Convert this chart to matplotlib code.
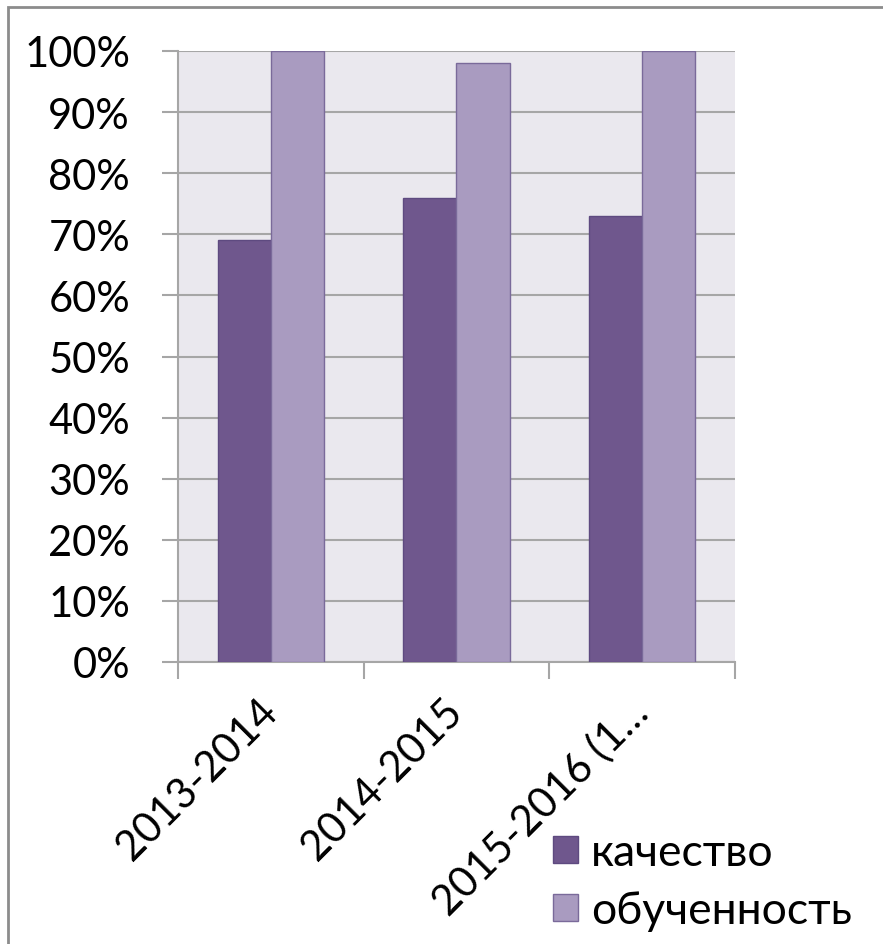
import matplotlib
matplotlib.use("Agg")
import matplotlib.pyplot as plt
import matplotlib.patches as mpatches
import numpy as np

categories = ["2013-2014", "2014-2015", "2015-2016 (1…"]
kachestvo = [69, 76, 73]
obuchennost = [100, 98, 100]
series_names = ["качество", "обученность"]
yticks = list(range(0, 101, 10))

plt.rcParams['font.family'] = ['Lato', 'DejaVu Sans']

W, H = 883, 945
fig = plt.figure(figsize=(W/100, H/100), dpi=100)
ax = fig.add_axes([178/W, 1-663/H, (735-178)/W, (663-52)/H])
ax.set_facecolor('#EAE8EE')

x = np.arange(len(categories))
bw = 1/3.5
c1, c2 = '#6F578D', '#A99BC0'
ax.bar(x - bw/2, kachestvo, bw, color=c1, edgecolor='#5E4A80', linewidth=1, zorder=3, label=series_names[0])
ax.bar(x + bw/2, obuchennost, bw, color=c2, edgecolor='#7A6A9A', linewidth=1, zorder=3, label=series_names[1])

ax.set_xlim(-0.5, len(categories)-0.5)
ax.set_ylim(0, 100)
ax.set_yticks(yticks)
ax.set_yticklabels([f"{v}%" for v in yticks], fontsize=30)
ax.yaxis.grid(True, color='#A6A6A6', linewidth=1.5, zorder=1)
ax.set_axisbelow(True)
for s in ['top', 'right']:
    ax.spines[s].set_visible(False)
for s in ['left', 'bottom']:
    ax.spines[s].set_color('#A6A6A6')
    ax.spines[s].set_linewidth(1.5)
ax.tick_params(axis='y', length=11.5, width=1.5, color='#A6A6A6', pad=23)

ax.set_xticks(np.arange(len(categories)+1) - 0.5, minor=False)
ax.set_xticklabels([])
ax.tick_params(axis='x', which='major', length=12, width=1.5, color='#A6A6A6')
ax.set_xticks(x, minor=True)
ax.set_xticklabels(categories, minor=True, fontsize=30, rotation=45, ha='right', va='center', rotation_mode='anchor')
ax.tick_params(axis='x', which='minor', length=0, pad=31)

leg = fig.legend(loc='upper left', bbox_to_anchor=(553/W, 1-833/H), frameon=False,
                 fontsize=32, handlelength=0.56, handleheight=0.56, handletextpad=0.3,
                 labelspacing=0.38, borderpad=0, borderaxespad=0)

border = mpatches.Rectangle((8/W, -0.1), 1.2, 1-8/H+0.1, transform=fig.transFigure,
                            fill=False, edgecolor='#8C8C8C', linewidth=2, zorder=10)
fig.patches.append(border)

fig.savefig("out.png", dpi=100)
